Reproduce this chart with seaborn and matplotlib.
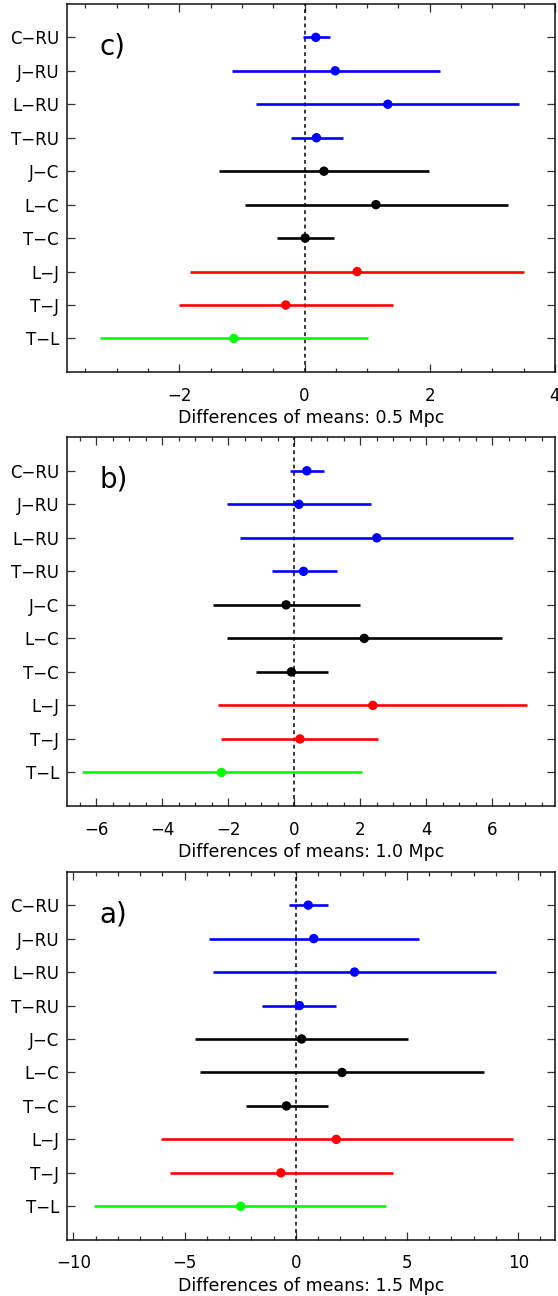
import numpy as np
import pandas as pd
import matplotlib
matplotlib.use("Agg")
import matplotlib.pyplot as plt
import seaborn as sns
from matplotlib.ticker import MultipleLocator

# ---------------- data ----------------
pairs = ["C−RU", "J−RU", "L−RU", "T−RU", "J−C", "L−C", "T−C", "L−J", "T−J", "T−L"]
groups = ["RU", "RU", "RU", "RU", "C", "C", "C", "J", "J", "L"]
group_colors = {"RU": "#0000ff", "C": "#000000", "J": "#ff0000", "L": "#00ff00"}

# 0.5 Mpc (panel c)
mean_05 = [0.18, 0.49, 1.33, 0.19, 0.31, 1.14, 0.01, 0.84, -0.30, -1.13]
low_05 = [-0.03, -1.16, -0.77, -0.22, -1.36, -0.95, -0.44, -1.83, -2.01, -3.26]
high_05 = [0.40, 2.16, 3.42, 0.61, 1.99, 3.25, 0.47, 3.51, 1.41, 1.01]

# 1.0 Mpc (panel b)
mean_10 = [0.38, 0.14, 2.50, 0.28, -0.25, 2.12, -0.09, 2.38, 0.17, -2.21]
low_10 = [-0.13, -2.04, -1.64, -0.69, -2.45, -2.04, -1.17, -2.30, -2.21, -6.44]
high_10 = [0.89, 2.31, 6.64, 1.28, 1.98, 6.29, 1.01, 7.06, 2.54, 2.05]

# 1.5 Mpc (panel a)
mean_15 = [0.56, 0.81, 2.64, 0.16, 0.26, 2.08, -0.42, 1.82, -0.67, -2.48]
low_15 = [-0.32, -3.91, -3.71, -1.52, -4.52, -4.31, -2.25, -6.07, -5.65, -9.06]
high_15 = [1.44, 5.54, 8.99, 1.81, 5.05, 8.48, 1.44, 9.76, 4.35, 4.07]

panel_labels = ["c)", "b)", "a)"]
x_labels = ["Differences of means: 0.5 Mpc",
            "Differences of means: 1.0 Mpc",
            "Differences of means: 1.5 Mpc"]
x_limits = [(-3.8, 4.0), (-6.9, 7.9), (-10.3, 11.65)]
x_major = [2, 2, 5]
x_minor = [0.5, 0.5, 1]

panel_data = [(mean_05, low_05, high_05),
              (mean_10, low_10, high_10),
              (mean_15, low_15, high_15)]

# ---------------- style ----------------
sns.set_style("ticks")
plt.rcParams["font.family"] = ["DejaVu Sans"]
plt.rcParams["axes.unicode_minus"] = True
plt.rcParams["text.color"] = "black"
plt.rcParams["axes.labelcolor"] = "black"

fig = plt.figure(figsize=(5.58, 12.96), dpi=100)
axes_rect = [
    [0.1195, 0.7130, 0.8750, 0.2840],
    [0.1195, 0.3781, 0.8750, 0.2845],
    [0.1195, 0.0434, 0.8750, 0.2840],
]

for i in range(3):
    ax = fig.add_axes(axes_rect[i])
    mean, lo, hi = panel_data[i]
    df = pd.DataFrame({
        "pair": pairs,
        "group": groups,
        "mean": mean,
        "lo": lo,
        "hi": hi,
        "pos": np.arange(len(pairs)),
    })

    ax.axvline(0, color="black", lw=1.1, ls=(0, (2.5, 2.2)), zorder=1)
    ax.hlines(df["pos"], df["lo"], df["hi"],
              colors=[group_colors[g] for g in df["group"]], lw=1.9, zorder=2)
    sns.scatterplot(data=df, x="mean", y="pos", hue="group",
                    palette=group_colors, s=46, linewidth=0, legend=False,
                    ax=ax, zorder=3)

    ax.set_xlim(*x_limits[i])
    ax.set_ylim(len(pairs), -1)
    ax.set_yticks(df["pos"])
    ax.set_yticklabels(pairs)
    ax.xaxis.set_major_locator(MultipleLocator(x_major[i]))
    ax.xaxis.set_minor_locator(MultipleLocator(x_minor[i]))
    ax.yaxis.set_minor_locator(matplotlib.ticker.NullLocator())

    ax.tick_params(axis="x", which="major", direction="in", length=5.5,
                   width=0.9, top=True, bottom=True, labelsize=12,
                   pad=10.5, color="#333333", labelcolor="black")
    ax.tick_params(axis="x", which="minor", direction="in", length=2.6,
                   width=0.9, top=True, bottom=True, color="#333333")
    ax.tick_params(axis="y", which="major", direction="in", length=6,
                   width=0.9, left=True, right=True, labelsize=12,
                   pad=5.5, color="#333333", labelcolor="black")

    ax.set_xlabel(x_labels[i], fontsize=12.5, labelpad=3.5, color="black")
    ax.set_ylabel("")
    for sp in ax.spines.values():
        sp.set_linewidth(1.1)
        sp.set_color("#111111")

    ax.text(0.067, 0.885, panel_labels[i], transform=ax.transAxes,
            fontsize=20, ha="left", va="center", color="black")

fig.savefig("out.png", dpi=100)
